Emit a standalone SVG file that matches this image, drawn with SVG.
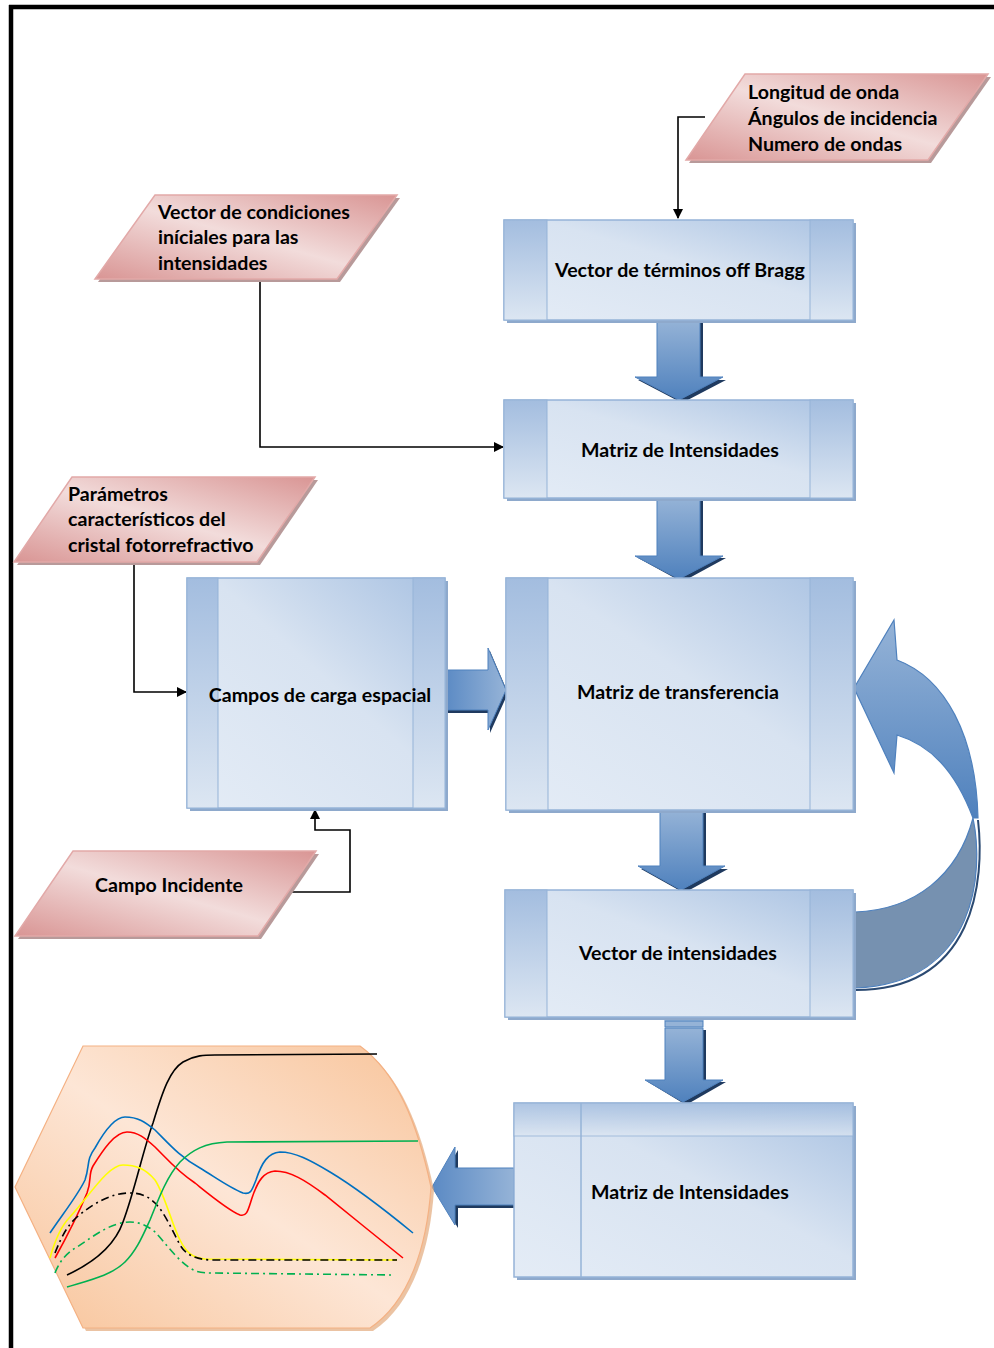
<svg xmlns="http://www.w3.org/2000/svg" width="994" height="1348" viewBox="0 0 994 1348">
<defs>
<style>
.t{font-family:Lato,"Open Sans","Liberation Sans",sans-serif;font-weight:bold;font-size:19.6px;fill:#000}
.c{text-anchor:middle}
.box{fill:url(#boxg);stroke:#95b3d7;stroke-width:1.5}
.bsh{fill:#8ea9cc}
.col{fill:url(#colg);stroke:#95b3d7;stroke-width:1}
.par{fill:url(#parg);stroke:#e2a9a8;stroke-width:1.5}
.psh{fill:#b89a9a}
.conn{fill:none;stroke:#000;stroke-width:1.6}
.barr{fill:url(#arrv);stroke:#4f81bd;stroke-width:1}
.barh{fill:url(#arrh);stroke:#4f81bd;stroke-width:1}
.ash{fill:#1f3a5f}
.cv{fill:none;stroke-width:1.6}
</style>
<linearGradient id="boxg" x1="1" y1="0" x2="0" y2="1">
<stop offset="0" stop-color="#a9c2e2"/>
<stop offset="0.45" stop-color="#d8e3f1"/>
<stop offset="1" stop-color="#e4ecf6"/>
</linearGradient>
<linearGradient id="colg" x1="0" y1="0" x2="0" y2="1">
<stop offset="0" stop-color="#a3bddf"/>
<stop offset="1" stop-color="#dce6f2"/>
</linearGradient>
<linearGradient id="parg" x1="1" y1="0" x2="0" y2="1">
<stop offset="0" stop-color="#d99594"/>
<stop offset="0.5" stop-color="#f2dcdb"/>
<stop offset="1" stop-color="#d99594"/>
</linearGradient>
<linearGradient id="arrv" x1="0" y1="0" x2="0" y2="1">
<stop offset="0" stop-color="#95b3d7"/>
<stop offset="1" stop-color="#4f81bd"/>
</linearGradient>
<linearGradient id="arrh" x1="0" y1="0" x2="1" y2="0">
<stop offset="0" stop-color="#5b8ac4"/>
<stop offset="1" stop-color="#95b3d7"/>
</linearGradient>
<linearGradient id="curvg" x1="0" y1="0" x2="0" y2="1">
<stop offset="0" stop-color="#95b3d7"/>
<stop offset="1" stop-color="#4f81bd"/>
</linearGradient>
<linearGradient id="chartg" x1="1" y1="0" x2="0" y2="1">
<stop offset="0" stop-color="#f8c49a"/>
<stop offset="0.5" stop-color="#fde6d6"/>
<stop offset="1" stop-color="#f8c49a"/>
</linearGradient>
<marker id="ah" markerWidth="10" markerHeight="10" refX="9" refY="5" orient="auto" markerUnits="userSpaceOnUse">
<path d="M0,0 L10,5 L0,10 Z" fill="#000"/>
</marker>
</defs>
<rect width="994" height="1348" fill="#fff"/>
<!-- frame -->
<g id="frame">
<line x1="9" y1="7" x2="994" y2="7" stroke="#000" stroke-width="4.5"/>
<line x1="11" y1="5" x2="11" y2="1348" stroke="#000" stroke-width="4.5"/>
</g>

<!-- connectors -->
<g id="connectors">
<polyline class="conn" points="705,117 678,117 678,218" marker-end="url(#ah)"/>
<polyline class="conn" points="260,281 260,447 503,447" marker-end="url(#ah)"/>
<polyline class="conn" points="134,562 134,692 186,692" marker-end="url(#ah)"/>
<polyline class="conn" points="287,892 350,892 350,830 315,830 315,810" marker-end="url(#ah)"/>
<!-- block arrows -->
<path class="ash" d="M660,322 L703,322 L703,380 L726,380 L682,403 L638,380 L660,380 Z"/>
<path class="barr" d="M657,320 L700,320 L700,377 L723,377 L679,400 L635,377 L657,377 Z"/>
<path class="ash" d="M660,500 L703,500 L703,558 L726,558 L682,582 L638,558 L660,558 Z"/>
<path class="barr" d="M657,498 L700,498 L700,556 L723,556 L679,579 L635,556 L657,556 Z"/>
<path class="ash" d="M663,812 L706,812 L706,869 L728,869 L684,893 L641,869 L663,869 Z"/>
<path class="barr" d="M660,810 L703,810 L703,866 L725,866 L681,890 L638,866 L660,866 Z"/>
<path class="ash" d="M668,1030 L706,1030 L706,1082 L726,1082 L686,1105 L648,1082 L668,1082 Z"/>
<path class="barr" d="M665,1028 L703,1028 L703,1080 L723,1080 L683,1102 L645,1080 L665,1080 Z"/>
<rect x="665" y="1015" width="38" height="5" fill="#95b3d7" stroke="#4f81bd" stroke-width="1"/>
<rect x="665" y="1021" width="38" height="6" fill="#95b3d7" stroke="#4f81bd" stroke-width="1"/>
<path class="ash" d="M447,673 L490,673 L490,651 L508,693 L490,733 L490,713 L447,713 Z"/>
<path class="barh" d="M445,670 L488,670 L488,648 L506,690 L488,730 L488,710 L445,710 Z"/>
<path class="ash" d="M516,1171 L458,1171 L458,1150 L435,1190 L458,1228 L458,1208 L516,1208 Z"/>
<path d="M514,1168 L455,1168 L455,1147 L432,1187 L455,1225 L455,1205 L514,1205 Z" fill="url(#arrh)" stroke="#4f81bd" stroke-width="1"/>
<!-- curved arrow -->
<path d="M973,818 C984,870 978,983 855,988 L855,912 C915,910 958,875 973,818 Z" fill="#7691b0" stroke="#4f81bd" stroke-width="1.2"/>
<path d="M856,990 C975,990 985,880 978,820" fill="none" stroke="#2b4a72" stroke-width="2"/>
<path d="M854,688 L894,620 L897,660 C945,678 976,735 978,818 L973,818 C955,770 930,745 897,735 L894,773 Z" fill="url(#curvg)" stroke="#4f81bd" stroke-width="1.2"/>
</g>

<!-- Parallelograms -->
<g id="p1">
<polygon class="psh" points="748,77 991,77 931,163 689,163"/>
<polygon class="par" points="745,74 988,74 928,160 686,160"/>
<text class="t" x="748" y="99">Longitud de onda</text>
<text class="t" x="748" y="125">Ángulos de incidencia</text>
<text class="t" x="748" y="151">Numero de ondas</text>
</g>
<g id="p2">
<polygon class="psh" points="158,198 400,198 340,282 98,282"/>
<polygon class="par" points="155,195 397,195 337,279 95,279"/>
<text class="t" x="158" y="219">Vector de condiciones</text>
<text class="t" x="158" y="244">iníciales para las</text>
<text class="t" x="158" y="270">intensidades</text>
</g>
<g id="p3">
<polygon class="psh" points="75,480 318,480 260,565 17,565"/>
<polygon class="par" points="72,477 315,477 257,562 14,562"/>
<text class="t" x="68" y="501">Parámetros</text>
<text class="t" x="68" y="526">característicos del</text>
<text class="t" x="68" y="552">cristal fotorrefractivo</text>
</g>
<g id="p4">
<polygon class="psh" points="76,854 319,854 261,939 18,939"/>
<polygon class="par" points="73,851 316,851 258,936 15,936"/>
<text class="t c" x="169" y="892">Campo Incidente</text>
</g>

<!-- Boxes -->
<g id="b1">
<rect class="bsh" x="507" y="223" width="349" height="100"/>
<rect class="box" x="504" y="220" width="349" height="100"/>
<rect class="col" x="504" y="220" width="43" height="100"/>
<rect class="col" x="810" y="220" width="43" height="100"/>
<text class="t c" x="680" y="277">Vector de términos off Bragg</text>
</g>
<g id="b2">
<rect class="bsh" x="507" y="403" width="349" height="98"/>
<rect class="box" x="504" y="400" width="349" height="98"/>
<rect class="col" x="504" y="400" width="43" height="98"/>
<rect class="col" x="810" y="400" width="43" height="98"/>
<text class="t c" x="680" y="457">Matriz de Intensidades</text>
</g>
<g id="b3">
<rect class="bsh" x="509" y="581" width="347" height="232"/>
<rect class="box" x="506" y="578" width="347" height="232"/>
<rect class="col" x="506" y="578" width="42" height="232"/>
<rect class="col" x="810" y="578" width="43" height="232"/>
<text class="t c" x="678" y="699">Matriz de transferencia</text>
</g>
<g id="b4">
<rect class="bsh" x="190" y="581" width="258" height="230"/>
<rect class="box" x="187" y="578" width="258" height="230"/>
<rect class="col" x="187" y="578" width="31" height="230"/>
<rect class="col" x="413" y="578" width="32" height="230"/>
<text class="t c" x="320" y="702">Campos de carga espacial</text>
</g>
<g id="b5">
<rect class="bsh" x="508" y="893" width="348" height="127"/>
<rect class="box" x="505" y="890" width="348" height="127"/>
<rect class="col" x="505" y="890" width="42" height="127"/>
<rect class="col" x="810" y="890" width="43" height="127"/>
<text class="t c" x="678" y="960">Vector de intensidades</text>
</g>
<g id="b6">
<rect class="bsh" x="517" y="1106" width="339" height="174"/>
<rect class="box" x="514" y="1103" width="339" height="174"/>
<rect x="514" y="1103" width="339" height="33" fill="url(#colg)" stroke="#95b3d7" stroke-width="1" opacity="0.8"/>
<line x1="581" y1="1103" x2="581" y2="1277" stroke="#95b3d7" stroke-width="1.5"/>
<text class="t c" x="690" y="1199">Matriz de Intensidades</text>
</g>

<!-- Chart -->
<g id="chart">
<path d="M86,1049 L363,1049 C400,1076 420,1125 434,1190 C430,1250 412,1305 373,1331 L86,1331 L18,1190 Z" fill="#e3a97c" opacity="0.7"/>
<path d="M83,1046 L360,1046 C397,1073 417,1122 431,1187 C427,1247 409,1302 370,1328 L83,1328 L15,1187 Z" fill="url(#chartg)" stroke="#f4b183" stroke-width="1.2"/>
<path class="cv" stroke="#000" d="M67,1275 C95,1262 115,1245 123,1222 C135,1190 143,1150 153,1123 C163,1090 170,1070 183,1062 C195,1055 205,1055 215,1055 L377,1054"/>
<path class="cv" stroke="#0070c0" d="M50,1233 C62,1215 78,1195 85,1180 C90,1165 86,1160 95,1148 C105,1130 115,1117 125,1117 C138,1117 145,1122 155,1130 C170,1145 180,1157 200,1168 C215,1177 230,1188 243,1193 C251,1195 252,1190 256,1180 C262,1162 268,1153 280,1152 C295,1152 310,1160 330,1172 C360,1190 385,1210 413,1233"/>
<path class="cv" stroke="#ff0000" d="M55,1258 C65,1240 80,1210 87,1193 C92,1180 88,1175 93,1166 C103,1150 115,1132 127,1132 C138,1132 145,1138 155,1147 C168,1160 178,1172 195,1183 C210,1195 228,1210 240,1215 C247,1217 248,1210 252,1198 C258,1180 264,1172 275,1171 C290,1171 305,1180 325,1195 C350,1215 378,1238 403,1258"/>
<path class="cv" stroke="#ffff00" stroke-width="2" d="M50,1258 C55,1240 62,1225 70,1217 C90,1195 108,1165 123,1165 C135,1165 145,1168 155,1180 C165,1195 172,1225 180,1240 C186,1252 192,1258 205,1259 L397,1260"/>
<path class="cv" stroke="#000" stroke-width="1.8" stroke-dasharray="8,4,2,4" d="M55,1253 C62,1235 68,1225 77,1217 C95,1202 112,1193 130,1193 C140,1193 148,1196 155,1203 C165,1213 172,1230 180,1245 C186,1255 195,1259 210,1260 L397,1260"/>
<path class="cv" stroke="#00b050" d="M67,1287 C90,1280 112,1275 125,1262 C137,1250 143,1235 150,1220 C160,1195 168,1175 180,1162 C192,1150 205,1143 227,1142 L418,1141"/>
<path class="cv" stroke="#00b050" stroke-dasharray="8,4,2,4" stroke-width="1.3" d="M55,1273 C60,1260 68,1252 77,1247 C95,1235 112,1222 130,1222 C140,1222 148,1226 155,1232 C165,1242 175,1258 190,1268 C196,1272 202,1273 212,1273 L393,1275"/>
</g>
</svg>
